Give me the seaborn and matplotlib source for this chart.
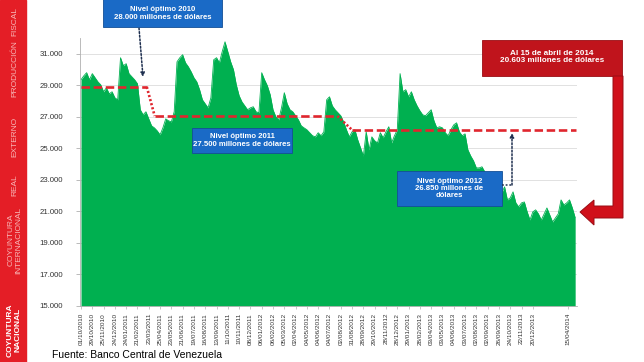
import numpy as np
import pandas as pd
import matplotlib
matplotlib.use("Agg")
import matplotlib.pyplot as plt
import seaborn as sns
from matplotlib.patches import Rectangle, Polygon
from matplotlib.lines import Line2D

# International reserves (millions USD), one reading per ~5 business days
reserves = [
    29350, 29600, 29800, 29350, 29740, 29480, 29220, 29030, 28590, 28840,
    28460, 28590, 28210, 28080, 30750, 30240, 30370, 29740, 29540, 29350,
    29100, 27450, 27130, 27320, 26870, 26430, 26300, 26110, 25860, 26300,
    26870, 26750, 26680, 27320, 30490, 30750, 30940, 30430, 30180, 29860,
    29480, 29220, 28720, 28080, 27830, 27570, 28210, 30620, 30750, 30430,
    31130, 31760, 31130, 30490, 29990, 29030, 28340, 27950, 27700, 27450,
    27570, 27640, 27320, 27260, 29800, 29350, 28970, 28400, 27450, 27000,
    26810, 27570, 28530, 27830, 27450, 27320, 27070, 26810, 26430, 26300,
    26180, 25990, 25800, 25730, 25990, 25800, 26050, 28080, 28270, 27700,
    27450, 27260, 27070, 26680, 26180, 25730, 26050, 26180, 25540, 25030,
    24520, 26050, 24910, 25730, 25480, 25350, 25990, 25670, 26050, 26370,
    25350, 25800, 26180, 29740, 28590, 28720, 28270, 28590, 28080, 27700,
    27390, 27130, 27070, 27260, 27450, 26750, 26300, 26370, 26300, 25990,
    25800, 26180, 26490, 26620, 26050, 25800, 25920, 24910, 24520, 24210,
    23760, 23760, 23830, 23510, 23260, 23000, 22810, 23000, 22680, 22180,
    22560, 21730, 21860, 22240, 21540, 21290, 21540, 21600, 20970, 20460,
    20970, 21100, 20840, 20460, 20840, 21220, 20780, 20330, 20590, 20840,
    21730, 21410, 21540, 21730, 21220, 20603,
]

tick_labels = [
    "01/10/2010", "29/10/2010", "25/11/2010", "24/12/2010", "24/01/2011",
    "21/02/2011", "23/03/2011", "25/04/2011", "23/05/2011", "21/06/2011",
    "19/07/2011", "16/08/2011", "13/09/2011", "11/10/2011", "10/11/2011",
    "08/12/2011", "06/01/2012", "06/02/2012", "05/03/2012", "02/04/2012",
    "04/05/2012", "04/06/2012", "04/07/2012", "02/08/2012", "31/08/2012",
    "28/09/2012", "29/10/2012", "28/11/2012", "28/12/2012", "29/01/2013",
    "28/02/2013", "03/04/2013", "03/05/2013", "04/06/2013", "03/07/2013",
    "02/08/2013", "02/09/2013", "26/09/2013", "24/10/2013", "22/11/2013",
    "20/12/2013", "15/04/2014",
]

y_ticks = [15000, 17000, 19000, 21000, 23000, 25000, 27000, 29000, 31000]

# optimal-level reference line as drawn on the chart
optimal_levels = [28900, 27050, 26150]

box_texts = [
    "Nivel óptimo 2010\n28.000 millones de dólares",
    "Nivel óptimo 2011\n27.500 millones de dólares",
    "Nivel óptimo 2012\n26.850 millones de\ndólares",
]
last_text = "Al 15 de abril de 2014\n20.603 millones de dólares"
side_tabs = ["FISCAL", "PRODUCCIÓN", "EXTERNO", "REAL", "COYUNTURA\nINTERNACIONAL"]
active_tab = "COYUNTURA\nNACIONAL"
source = "Fuente: Banco Central de Venezuela"

GREEN = "#00b050"
RED_LINE = "#e0262e"
BLUE = "#1a6ac6"
NAVY = "#1f3050"

sns.set_theme(style="white")
plt.rcParams["font.family"] = ["Liberation Sans", "DejaVu Sans"]

W, H = 644, 362
fig = plt.figure(figsize=(W / 100, H / 100), dpi=100)


def fx(x):
    return x / W


def fy(y):
    return 1 - y / H


ax = fig.add_axes([fx(80), fy(306), (577 - 80) / W, (306 - 38) / H])

df = pd.DataFrame({"idx": np.arange(len(reserves)), "reserves": reserves})
ax.fill_between(df["idx"], 15000, df["reserves"], color=GREEN, lw=0, zorder=2)
sns.lineplot(data=df, x="idx", y="reserves", color=GREEN, lw=0.6, ax=ax, zorder=2)

# optimal level line: flat dashed segments joined by dotted slopes
n = len(reserves)
seg_ranges = [(0, 23.3), (26.1, 90.8), (96.1, n - 0.8)]
for (a, b), lev in zip(seg_ranges, optimal_levels):
    ax.plot([a, b], [lev, lev], color=RED_LINE, lw=1.9, ls=(0, (3.2, 1.4)), zorder=3,
            solid_capstyle="butt", dash_capstyle="butt")
for i in range(2):
    a = seg_ranges[i][1]
    b = seg_ranges[i + 1][0]
    ax.plot([a, b], [optimal_levels[i], optimal_levels[i + 1]], color=RED_LINE,
            lw=1.9, ls=(0, (0.8, 0.8)), zorder=3)

ax.set_xlim(-0.35, n - 0.35)
ax.set_ylim(15000, 32000)
ax.set_yticks(y_ticks)
ax.set_yticklabels([f"{v:,}".replace(",", ".") for v in y_ticks])
tick_pos = [4 * k for k in range(len(tick_labels) - 1)] + [172.4]
ax.set_xticks(tick_pos)
ax.set_xticklabels(tick_labels, rotation=90)
ax.set_xlabel("")
ax.set_ylabel("")

ax.yaxis.grid(True, color="#dcdcdc", lw=0.6)
ax.set_axisbelow(True)
for s in ["top", "right"]:
    ax.spines[s].set_visible(False)
for s in ["left", "bottom"]:
    ax.spines[s].set_color("#b0b0b0")
    ax.spines[s].set_linewidth(0.6)
ax.tick_params(axis="y", length=3, width=0.6, color="#b0b0b0", pad=9,
               labelsize=5.6, labelcolor="#333333", left=True)
ax.tick_params(axis="x", length=2, width=0.5, color="#b0b0b0", pad=3,
               labelsize=4.6, labelcolor="#333333", bottom=True)

# left red navigation band
fig.add_artist(Rectangle((0, 0), fx(26), 1, transform=fig.transFigure,
                         color="#e41e26", zorder=0))
tab_y = [22, 69, 137, 185, 240]
for t, yy in zip(side_tabs, tab_y):
    fig.text(fx(15), fy(yy), t, rotation=90, ha="center", va="center",
             color="#f7b7b7", fontsize=6, linespacing=1.0, multialignment="center")
fig.text(fx(14), fy(330), active_tab, rotation=90, ha="center", va="center",
         color="white", fontsize=6.0, fontweight="bold", linespacing=1.0,
         multialignment="center")

fig.text(fx(52), fy(355), source, ha="left", va="center", fontsize=7.5, color="black")

# blue annotation boxes
boxes = [(103, -2, 222, 27), (192, 128, 292, 153), (397, 171, 502, 206)]
for (x0, y0, x1, y1), t in zip(boxes, box_texts):
    fig.add_artist(Rectangle((fx(x0), fy(y1)), fx(x1) - fx(x0), fy(y0) - fy(y1),
                             transform=fig.transFigure, facecolor=BLUE,
                             edgecolor="#134f96", lw=0.6, zorder=5))
    cy = (max(y0, 0) + y1) / 2
    fig.text(fx((x0 + x1) / 2), fy(cy), t, ha="center", va="center", color="white",
             fontsize=5.6, fontweight="bold", linespacing=1.05,
             multialignment="center", zorder=6)

# dotted navy arrows
ax.annotate("", xy=(fx(143), fy(77)), xytext=(fx(139), fy(28)),
            xycoords="figure fraction", textcoords="figure fraction",
            arrowprops=dict(arrowstyle="-|>", ls=(0, (1.2, 1.2)), color=NAVY,
                            lw=1.1, mutation_scale=6, shrinkA=0, shrinkB=0))
fig.add_artist(Line2D([fx(502), fx(512)], [fy(185), fy(185)], transform=fig.transFigure,
                      color=NAVY, lw=1.1, ls=(0, (1.2, 1.2)), zorder=6))
ax.annotate("", xy=(fx(512), fy(133)), xytext=(fx(512), fy(185)),
            xycoords="figure fraction", textcoords="figure fraction",
            arrowprops=dict(arrowstyle="-|>", ls=(0, (1.2, 1.2)), color=NAVY,
                            lw=1.1, mutation_scale=6, shrinkA=0, shrinkB=0))

# red callout box with L-shaped arrow
fig.add_artist(Rectangle((fx(482), fy(76)), fx(622) - fx(482), fy(40) - fy(76),
                         transform=fig.transFigure, facecolor="#c0141c",
                         edgecolor="#9a0d14", lw=0.6, zorder=5))
fig.text(fx(552), fy(57), last_text, ha="center", va="center", color="white",
         fontsize=5.9, fontweight="bold", linespacing=1.0, multialignment="center",
         zorder=6)
arrow_px = [(613, 76), (623, 76), (623, 218), (594, 218), (594, 225), (580, 212),
            (594, 200), (594, 206), (613, 206)]
fig.add_artist(Polygon([(fx(a), fy(b)) for a, b in arrow_px], closed=True,
                       transform=fig.transFigure, facecolor="#d0101a",
                       edgecolor="#9a0d14", lw=0.7, zorder=5))

fig.savefig("out.png", dpi=100)
